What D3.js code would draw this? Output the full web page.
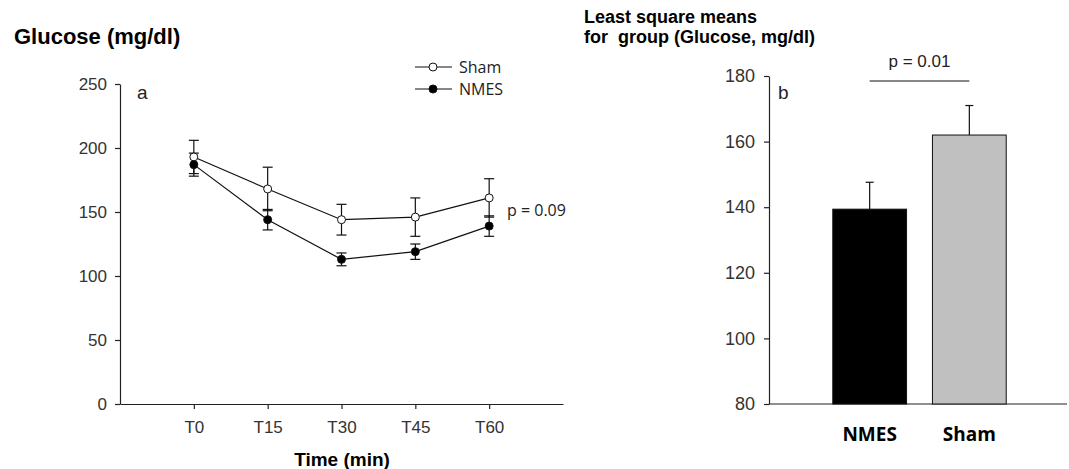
<!DOCTYPE html>
<html>
<head>
<meta charset="utf-8">
<script src="https://cdn.jsdelivr.net/npm/d3@7"></script>
<style>
  body { margin: 0; background: #fff; }
  svg { display: block; }
  .axis path, .axis line { stroke: #222; stroke-width: 1.2; }
  .axis text { fill: #333; font-family: 'Liberation Sans', Arial, sans-serif; }
</style>
</head>
<body>
<div id="chart"></div>
<script>
// Panel a: glucose over time
const times = ['T0', 'T15', 'T30', 'T45', 'T60'];
const shamMean = [193, 168, 144, 146, 161];
const shamErr = [13, 17, 12, 15, 15];
const nmesMean = [187, 144, 113, 119, 139];
const nmesErr = [9, 8, 5, 6, 8];
const glucoseTicks = [0, 50, 100, 150, 200, 250];

// Panel b: least square means
const groups = ['NMES', 'Sham'];
const lsMean = [139.4, 162];
const lsErr = [8.2, 9];
const lsTicks = [80, 100, 120, 140, 160, 180];

const svg = d3
  .select('#chart')
  .append('svg')
  .attr('width', 1069)
  .attr('height', 469);

// ---------- panel a ----------
const xA = d3.scaleLinear().domain([0, 6]).range([120, 563]);
const yA = d3.scaleLinear().domain([0, 250]).range([404, 84]);

svg
  .append('g')
  .attr('class', 'axis')
  .attr('transform', 'translate(0,' + yA(0) + ')')
  .call(
    d3.axisBottom(xA)
      .tickValues([1, 2, 3, 4, 5])
      .tickFormat((d) => times[d - 1])
      .tickSize(5)
      .tickSizeOuter(0)
      .tickPadding(12),
  )
  .selectAll('text')
  .style('font-size', '17px');

svg
  .append('g')
  .attr('class', 'axis')
  .attr('transform', 'translate(' + xA(0) + ',0)')
  .call(
    d3.axisLeft(yA)
      .tickValues(glucoseTicks)
      .tickSize(5)
      .tickSizeOuter(0)
      .tickPadding(8),
  )
  .selectAll('text')
  .style('font-size', '17px');

const seriesA = [
  { name: 'Sham', mean: shamMean, err: shamErr, fill: '#fff' },
  { name: 'NMES', mean: nmesMean, err: nmesErr, fill: '#000' },
];

const line = d3
  .line()
  .x((d, i) => xA(i + 1))
  .y((d) => yA(d));

seriesA.forEach((s) => {
  svg
    .append('path')
    .datum(s.mean)
    .attr('d', line)
    .attr('fill', 'none')
    .attr('stroke', '#111')
    .attr('stroke-width', 1.2);

  // error bars
  const eb = svg
    .selectAll('.eb-' + s.name)
    .data(s.mean)
    .enter()
    .append('g')
    .attr('class', 'eb-' + s.name);
  eb.append('line')
    .attr('x1', (d, i) => xA(i + 1))
    .attr('x2', (d, i) => xA(i + 1))
    .attr('y1', (d, i) => yA(d - s.err[i]))
    .attr('y2', (d, i) => yA(d + s.err[i]));
  eb.append('line')
    .attr('x1', (d, i) => xA(i + 1) - 5)
    .attr('x2', (d, i) => xA(i + 1) + 5)
    .attr('y1', (d, i) => yA(d + s.err[i]))
    .attr('y2', (d, i) => yA(d + s.err[i]));
  eb.append('line')
    .attr('x1', (d, i) => xA(i + 1) - 5)
    .attr('x2', (d, i) => xA(i + 1) + 5)
    .attr('y1', (d, i) => yA(d - s.err[i]))
    .attr('y2', (d, i) => yA(d - s.err[i]));
  eb.selectAll('line').attr('stroke', '#111').attr('stroke-width', 1.2);
});

seriesA.forEach((s) => {
  svg
    .selectAll('.pt-' + s.name)
    .data(s.mean)
    .enter()
    .append('circle')
    .attr('cx', (d, i) => xA(i + 1))
    .attr('cy', (d) => yA(d))
    .attr('r', 4)
    .attr('fill', s.fill)
    .attr('stroke', '#111')
    .attr('stroke-width', 1);
});

// legend
seriesA.forEach((s, i) => {
  const ly = 67 + i * 22;
  svg.append('line')
    .attr('x1', 415).attr('x2', 452)
    .attr('y1', ly).attr('y2', ly)
    .attr('stroke', '#111').attr('stroke-width', 1.2);
  svg.append('circle')
    .attr('cx', 433).attr('cy', ly).attr('r', 4)
    .attr('fill', s.fill).attr('stroke', '#111');
  svg.append('text')
    .attr('x', 459).attr('y', ly + 6)
    .style('font-family', "'Open Sans', sans-serif")
    .style('font-size', '16px')
    .style('fill', '#222')
    .text(s.name);
});

svg.append('text')
  .attr('x', 14).attr('y', 44)
  .style('font-family', "'Liberation Sans', Arial, sans-serif")
  .style('font-size', '22px')
  .style('font-weight', 'bold')
  .text('Glucose (mg/dl)');

svg.append('text')
  .attr('x', 137).attr('y', 99)
  .style('font-family', "'Liberation Sans', Arial, sans-serif")
  .style('font-size', '19px')
  .style('fill', '#222')
  .text('a');

svg.append('text')
  .attr('x', 342).attr('y', 466)
  .attr('text-anchor', 'middle')
  .style('font-family', "'Liberation Sans', Arial, sans-serif")
  .style('font-size', '19px')
  .style('font-weight', 'bold')
  .text('Time (min)');

svg.append('text')
  .attr('x', 507).attr('y', 216)
  .style('font-family', "'Open Sans', sans-serif")
  .style('font-size', '16px')
  .style('fill', '#222')
  .text('p = 0.09');

// ---------- panel b ----------
const xB = d3
  .scaleBand()
  .domain(groups)
  .range([769, 1070])
  .paddingInner(0.26)
  .paddingOuter(0.64);
const yB = d3.scaleLinear().domain([80, 180]).range([404, 76]);

svg
  .append('g')
  .attr('class', 'axis')
  .attr('transform', 'translate(0,' + yB(80) + ')')
  .call(d3.axisBottom(xB).tickSize(0).tickFormat(''))
  .select('.domain')
  .attr('d', 'M769,0H1067');

svg
  .append('g')
  .attr('class', 'axis')
  .attr('transform', 'translate(769,0)')
  .call(
    d3.axisLeft(yB)
      .tickValues(lsTicks)
      .tickSize(5)
      .tickSizeOuter(0)
      .tickPadding(9),
  )
  .selectAll('text')
  .style('font-size', '18px');

const barFill = ['#000', '#c0c0c0'];

// error bars (upper only), drawn under the bars
groups.forEach((g, i) => {
  const cx = xB(g) + xB.bandwidth() / 2;
  svg.append('line')
    .attr('x1', cx).attr('x2', cx)
    .attr('y1', yB(lsMean[i])).attr('y2', yB(lsMean[i] + lsErr[i]))
    .attr('stroke', '#111').attr('stroke-width', 1.2);
  svg.append('line')
    .attr('x1', cx - 4).attr('x2', cx + 4)
    .attr('y1', yB(lsMean[i] + lsErr[i])).attr('y2', yB(lsMean[i] + lsErr[i]))
    .attr('stroke', '#111').attr('stroke-width', 1.2);
});

svg
  .selectAll('.bar')
  .data(groups)
  .enter()
  .append('rect')
  .attr('class', 'bar')
  .attr('x', (d) => xB(d))
  .attr('width', xB.bandwidth())
  .attr('y', (d, i) => yB(lsMean[i]))
  .attr('height', (d, i) => yB(80) - yB(lsMean[i]))
  .attr('fill', (d, i) => barFill[i])
  .attr('stroke', '#111')
  .attr('stroke-width', 1);

svg
  .selectAll('.grp-label')
  .data(groups)
  .enter()
  .append('text')
  .attr('class', 'grp-label')
  .attr('x', (d) => xB(d) + xB.bandwidth() / 2)
  .attr('y', 441)
  .attr('text-anchor', 'middle')
  .style('font-family', "'Open Sans', sans-serif")
  .style('font-size', '19px')
  .style('font-weight', 'bold')
  .text((d) => d);

// significance line
svg.append('line')
  .attr('x1', xB('NMES') + xB.bandwidth() / 2)
  .attr('x2', xB('Sham') + xB.bandwidth() / 2)
  .attr('y1', 81).attr('y2', 81)
  .attr('stroke', '#111').attr('stroke-width', 1.2);

svg.append('text')
  .attr('x', (xB('NMES') + xB('Sham') + xB.bandwidth()) / 2)
  .attr('y', 67)
  .attr('text-anchor', 'middle')
  .style('font-family', "'Liberation Sans', Arial, sans-serif")
  .style('font-size', '17px')
  .style('fill', '#222')
  .text('p = 0.01');

svg.append('text')
  .attr('x', 778).attr('y', 99)
  .style('font-family', "'Liberation Sans', Arial, sans-serif")
  .style('font-size', '19px')
  .style('fill', '#222')
  .text('b');

const titleB = svg.append('text')
  .style('font-family', "'Liberation Sans', Arial, sans-serif")
  .style('font-size', '18px')
  .style('font-weight', 'bold')
  .attr('xml:space', 'preserve');
titleB.append('tspan').attr('x', 584).attr('y', 23).text('Least square means');
titleB.append('tspan').attr('x', 584).attr('y', 43).text('for  group (Glucose, mg/dl)');
</script>
</body>
</html>
